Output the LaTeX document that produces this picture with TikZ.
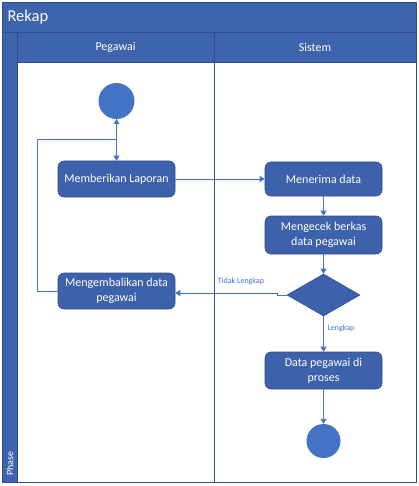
\documentclass[tikz,border=0pt]{standalone}
\usepackage{fontspec}
\setmainfont{Carlito}
\usetikzlibrary{shapes.geometric,arrows.meta}
\definecolor{hdr}{HTML}{3E63AD}
\definecolor{hdrbd}{HTML}{2F4F8F}
\definecolor{boxfill}{HTML}{3D61AB}
\definecolor{boxbd}{HTML}{2F4F8F}
\definecolor{circfill}{HTML}{4472C4}
\definecolor{linec}{HTML}{4472C4}
\tikzset{
  lanebd/.style={draw=hdrbd, line width=0.9pt},
  actbox/.style={rectangle, rounded corners=6pt, fill=boxfill, draw=boxbd, line width=0.6pt, text=white, minimum width=117pt, align=center, inner sep=1pt, font=\fontsize{12}{15}\selectfont},
  startc/.style={circle, fill=circfill, draw=none, inner sep=0pt},
  decis/.style={diamond, fill=boxfill, draw=boxbd, line width=0.6pt, inner sep=0pt, minimum width=73pt, minimum height=42pt},
  flow/.style={draw=linec, line width=0.9pt, -{Triangle[width=6pt,length=5pt]}},
  flowlbl/.style={text=linec, font=\fontsize{8}{9}\selectfont, inner sep=1pt},
  hdrtxt/.style={text=white, font=\fontsize{12}{14}\selectfont}
}
\begin{document}
\begin{tikzpicture}[x=1pt,y=-1pt]
\useasboundingbox (0,0) rectangle (418,486);
\fill[white] (0,0) rectangle (418,486);
% pool frame
\draw[lanebd, fill=hdr] (2,2) rectangle (416,32);
\node[hdrtxt, anchor=west, font=\fontsize{16.5}{18}\selectfont] (title) at (4,17) {Rekap};
\draw[lanebd, fill=hdr] (2,32) rectangle (17,482);
\node[hdrtxt, rotate=90, anchor=west, font=\fontsize{10}{11}\selectfont] (phase) at (10,479) {Phase};
\draw[lanebd, fill=hdr] (17,32) rectangle (214,62);
\draw[lanebd, fill=hdr] (214,32) rectangle (416,62);
\node[hdrtxt] (h1) at (115.5,47) {Pegawai};
\node[hdrtxt] (h2) at (315,47) {Sistem};
\draw[lanebd, fill=white] (17,62) rectangle (214,482);
\draw[lanebd, fill=white] (214,62) rectangle (416,482);
% nodes
\node[startc, minimum size=36pt] (start) at (116.5,101) {};
\node[actbox, minimum height=36pt] (lapor) at (116.5,179) {Memberikan Laporan};
\node[actbox, minimum height=36pt] (kembali) at (116.5,291) {Mengembalikan data\\pegawai};
\node[actbox, minimum height=34pt] (terima) at (323.5,179) {Menerima data};
\node[actbox, minimum height=38pt] (cek) at (323.5,235) {Mengecek berkas\\data pegawai};
\node[decis] (dec) at (323.5,295) {};
\node[actbox, minimum height=37pt] (proses) at (323.5,370.5) {Data pegawai di\\proses};
\node[startc, minimum size=34pt] (end) at (323.5,441) {};
\coordinate (loopA) at (37,291);
\coordinate (loopB) at (37,139);
\coordinate (loopC) at (116.5,139);
\coordinate (jog) at (277,293);
% connectors
\draw[flow] (start) -- (lapor);
\draw[flow] (kembali.west) -- (loopA) -- (loopB) -- (loopC) -- (start);
\draw[flow] (lapor.east) -- (terima.west);
\draw[flow] (terima) -- (cek);
\draw[flow] (cek) -- (dec);
\draw[flow] (dec.west) -- (dec.west -| jog) -- (jog) -- (kembali.east |- jog);
\draw[flow] (dec) -- (proses);
\draw[flow] (proses) -- (end);
\node[flowlbl] (ltidak) at (241,281) {Tidak Lengkap};
\node[flowlbl] (llengkap) at (341,328) {Lengkap};
\end{tikzpicture}
\end{document}
